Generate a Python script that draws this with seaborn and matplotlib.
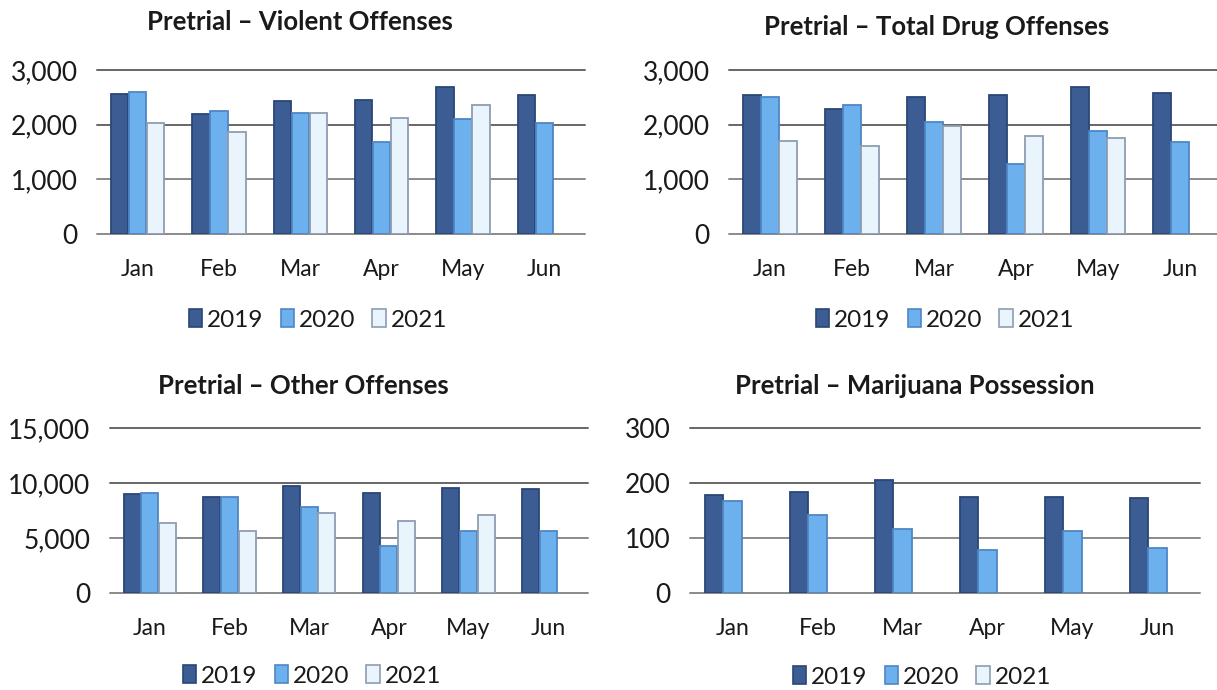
import numpy as np
import pandas as pd
import matplotlib
matplotlib.use("Agg")
import matplotlib.pyplot as plt
from matplotlib.patches import Patch
import seaborn as sns

months = ["Jan", "Feb", "Mar", "Apr", "May", "Jun"]
years = ["2019", "2020", "2021"]

violent_2019 = [2560, 2190, 2430, 2460, 2680, 2545]
violent_2020 = [2600, 2250, 2220, 1690, 2100, 2035]
violent_2021 = [2030, 1860, 2220, 2115, 2360, None]

drug_2019 = [2545, 2295, 2500, 2550, 2685, 2575]
drug_2020 = [2515, 2355, 2040, 1275, 1890, 1690]
drug_2021 = [1700, 1615, 1980, 1795, 1760, None]

other_2019 = [8970, 8730, 9760, 9120, 9580, 9490]
other_2020 = [9060, 8700, 7790, 4300, 5600, 5600]
other_2021 = [6330, 5670, 7240, 6510, 7120, None]

mj_2019 = [178, 183, 206, 175, 175, 172]
mj_2020 = [167, 142, 116, 79, 113, 82]
mj_2021 = [None, None, None, None, None, None]

face = {"2019": "#3c5d94", "2020": "#6cb1ee", "2021": "#e9f4fd"}
edge = {"2019": "#2a4676", "2020": "#4f86c4", "2021": "#8e9db3"}

sns.set_theme(style="white")
plt.rcParams["font.family"] = ["Lato", "DejaVu Sans"]
text_color = "#1a1a1a"

fig = plt.figure(figsize=(12.17, 6.9), dpi=100)
W, H = 1217, 690


def frame(s2019, s2020, s2021):
    rows = []
    for yr, vals in zip(years, (s2019, s2020, s2021)):
        for m, v in zip(months, vals):
            if v is not None:
                rows.append({"month": m, "year": yr, "count": v})
    return pd.DataFrame(rows)


panels = [
    dict(title="Pretrial \u2013 Violent Offenses", data=(violent_2019, violent_2020, violent_2021),
         box=(97, 585, 234, 70), ticks=[0, 1000, 2000, 3000], top=3000,
         title_xy=(300, 22), legend_xy=(318, 320)),
    dict(title="Pretrial \u2013 Total Drug Offenses", data=(drug_2019, drug_2020, drug_2021),
         box=(729, 1221, 234, 70), ticks=[0, 1000, 2000, 3000], top=3000,
         title_xy=(937, 27), legend_xy=(945, 320)),
    dict(title="Pretrial \u2013 Other Offenses", data=(other_2019, other_2020, other_2021),
         box=(110, 588, 593, 428), ticks=[0, 5000, 10000, 15000], top=15000,
         title_xy=(303, 386), legend_xy=(312, 676)),
    dict(title="Pretrial \u2013 Marijuana Possession", data=(mj_2019, mj_2020, mj_2021),
         box=(690, 1200, 593, 428), ticks=[0, 100, 200, 300], top=300,
         title_xy=(915, 386), legend_xy=(922, 677)),
]

for p in panels:
    x0, x1, ybot, ytop = p["box"]
    ax = fig.add_axes([x0 / W, 1 - ybot / H, (x1 - x0) / W, (ybot - ytop) / H])
    df = frame(*p["data"])
    sns.barplot(data=df, x="month", y="count", hue="year", order=months,
                hue_order=years, palette=face, saturation=1, width=0.66, gap=0.03,
                linewidth=1.3, ax=ax, legend=False, zorder=3)
    for bar in ax.patches:
        fc = matplotlib.colors.to_hex(bar.get_facecolor())
        for yr in years:
            if fc == face[yr]:
                bar.set_edgecolor(edge[yr])
    ax.set_xlim(-0.5, 5.5)
    ax.set_ylim(0, p["top"])
    ax.set_yticks(p["ticks"])
    ax.set_yticklabels([f"{t:,}" for t in p["ticks"]])
    ax.set_xlabel("")
    ax.set_ylabel("")
    ax.set_facecolor("none")
    for s in ax.spines.values():
        s.set_visible(False)
    for t in p["ticks"]:
        ax.axhline(t, color="#666666" if t in p["ticks"][-2:] else "#8a8a8a",
                   lw=1.4, zorder=1, clip_on=False)
    ax.tick_params(axis="y", length=0, pad=14, labelsize=19, labelcolor=text_color)
    ax.tick_params(axis="x", length=0, pad=18, labelsize=16.5, labelcolor=text_color)

    tx, ty = p["title_xy"]
    fig.text(tx / W, 1 - ty / H, p["title"], ha="center", va="center",
             fontsize=18.5, fontweight="bold", color=text_color)

    handles = [Patch(facecolor=face[y], edgecolor=edge[y], linewidth=1.2, label=y) for y in years]
    lx, ly = p["legend_xy"]
    fig.legend(handles=handles, loc="center", bbox_to_anchor=(lx / W, 1 - ly / H),
               ncol=3, frameon=False, fontsize=17.5, handlelength=0.55, handleheight=0.7,
               handletextpad=0.2, columnspacing=0.7, labelcolor=text_color,
               borderaxespad=0, borderpad=0)

fig.savefig("out.png", dpi=100, facecolor="white")
